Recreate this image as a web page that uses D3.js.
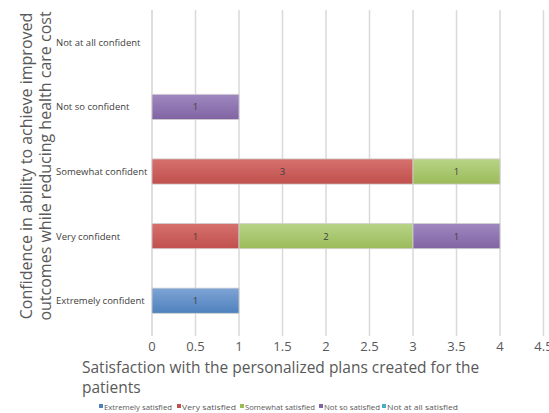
<!DOCTYPE html>
<html><head><meta charset="utf-8">
<script src="https://cdn.jsdelivr.net/npm/d3@7"></script>
<style>body{margin:0;background:#fff;}svg{display:block;font-family:"Open Sans","Liberation Sans",sans-serif;}</style>
</head><body>
<svg id="c" width="549" height="413"></svg>
<script>
const categories = ["Extremely confident","Very confident","Somewhat confident","Not so confident","Not at all confident"];
const seriesNames = ["Extremely satisfied","Very satisfied","Somewhat satisfied","Not so satisfied","Not at all satisfied"];
const extremelySatisfied = [1,0,0,0,0];
const verySatisfied = [0,1,3,0,0];
const somewhatSatisfied = [0,2,1,0,0];
const notSoSatisfied = [0,1,0,1,0];
const notAtAllSatisfied = [0,0,0,0,0];
const xTicks = [0,0.5,1,1.5,2,2.5,3,3.5,4,4.5];
const colors = ["#4f81bd","#c0504d","#9bbb59","#8064a2","#4bacc6"];
const lightColors = ["#7ea4d6","#d6716e","#b8d487","#9f88c0","#7bc6db"];

const seriesValues = [extremelySatisfied, verySatisfied, somewhatSatisfied, notSoSatisfied, notAtAllSatisfied];
const rows = categories.map((c,i)=>{const r={cat:c}; seriesNames.forEach((s,j)=>r[s]=seriesValues[j][i]); return r;});
const stacked = d3.stack().keys(seriesNames)(rows);

const svg = d3.select("#c");
const x = d3.scaleLinear().domain([0,4.5]).range([152,543.5]);
const y = d3.scaleBand().domain(categories.slice().reverse()).range([10,333]).paddingInner(0.61).paddingOuter(0.305);

const defs = svg.append("defs");
colors.forEach((c,i)=>{
  const g = defs.append("linearGradient").attr("id","g"+i).attr("x1",0).attr("y1",0).attr("x2",0).attr("y2",1);
  g.append("stop").attr("offset","0%").attr("stop-color",lightColors[i]);
  g.append("stop").attr("offset","100%").attr("stop-color",c);
});

// gridlines
svg.append("g").selectAll("line").data(xTicks.slice(1)).join("line")
  .attr("x1",d=>x(d)).attr("x2",d=>x(d)).attr("y1",10).attr("y2",336)
  .attr("stroke","#d9d9d9").attr("stroke-width",1.5);
// axis line
svg.append("line").attr("x1",x(0)).attr("x2",x(0)).attr("y1",10).attr("y2",336).attr("stroke","#c8c8c8").attr("stroke-width",1.2);

// bars
stacked.forEach((s,si)=>{
  const g = svg.append("g");
  const segs = s.filter(d=>d[1]-d[0]>0);
  g.selectAll("rect").data(segs).join("rect")
    .attr("x",d=>x(d[0])).attr("width",d=>x(d[1])-x(d[0]))
    .attr("y",d=>y(d.data.cat)).attr("height",y.bandwidth())
    .attr("fill","url(#g"+si+")").attr("stroke","#d0d0d0").attr("stroke-width",0.8);
  g.selectAll("text").data(segs).join("text")
    .attr("x",d=>(x(d[0])+x(d[1]))/2).attr("y",d=>y(d.data.cat)+y.bandwidth()/2+3.5)
    .attr("text-anchor","middle").attr("font-size",9.5).attr("fill","#404040")
    .text(d=>d[1]-d[0]);
});

// y category labels
svg.append("g").selectAll("text").data(categories).join("text")
  .attr("x",56).attr("y",d=>y(d)+y.bandwidth()/2+3.5)
  .attr("font-size",9.5).attr("fill","#404040").text(d=>d);

// x tick labels
svg.append("g").selectAll("text").data(xTicks).join("text")
  .attr("x",d=>x(d)).attr("y",351).attr("text-anchor","middle")
  .attr("font-size",13).attr("fill","#595959").text(d=>d);

// x title
const xt = svg.append("text").attr("font-size",15.5).attr("fill","#595959");
xt.append("tspan").attr("x",82).attr("y",373).text("Satisfaction with the personalized plans created for the");
xt.append("tspan").attr("x",82).attr("y",393).text("patients");

// y title
const yt = svg.append("text").attr("transform","translate(32,166) rotate(-90)").attr("text-anchor","middle").attr("font-size",16).attr("fill","#595959");
yt.append("tspan").attr("x",0).attr("y",0).text("Confidence in ability to achieve improved");
yt.append("tspan").attr("x",0).attr("y",19).text("outcomes while reducing health care cost");

// legend
const legX = [99,177,240,319,382];
const lg = svg.append("g");
seriesNames.forEach((s,i)=>{
  lg.append("rect").attr("x",legX[i]).attr("y",404).attr("width",4).attr("height",4).attr("fill",colors[i]);
  lg.append("text").attr("x",legX[i]+5).attr("y",409.5).attr("font-size",7.6).attr("fill","#595959")
    .attr("textLength",[68,54,70,56,71][i]).attr("lengthAdjust","spacingAndGlyphs").text(s);
});
</script>
</body></html>
